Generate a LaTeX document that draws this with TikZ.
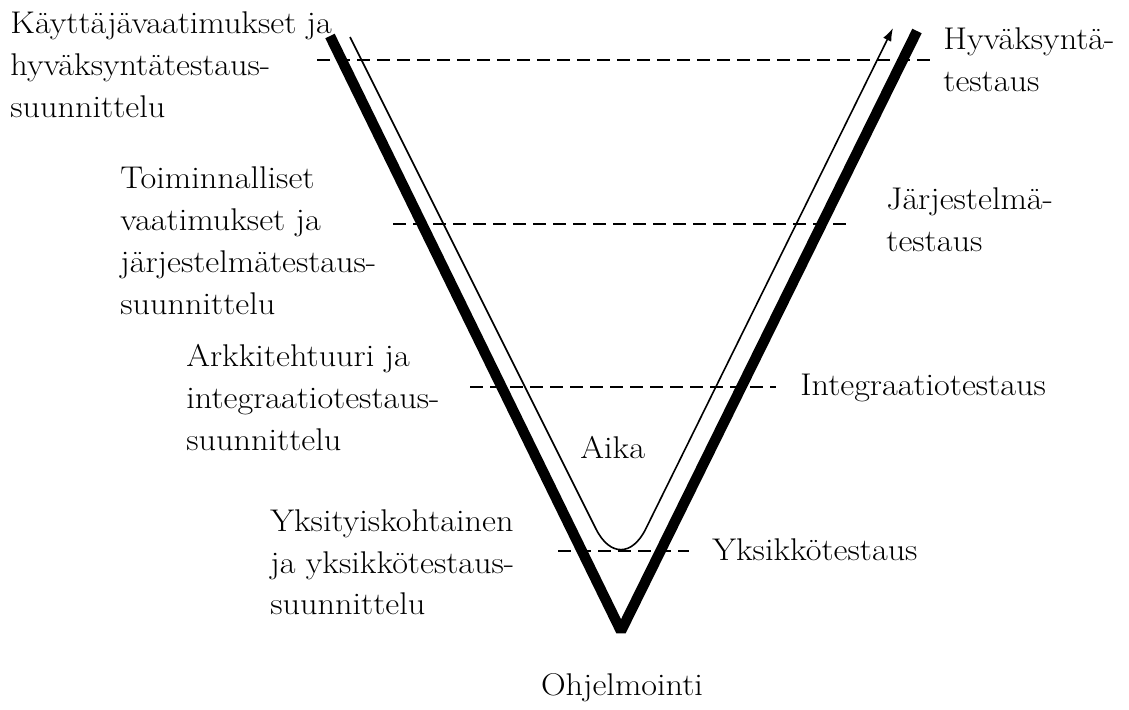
\documentclass[tikz,border=0pt]{standalone}
\usepackage{fontspec}
\setmainfont{Latin Modern Roman}[FakeStretch=1.09]
\usetikzlibrary{arrows.meta}
\begin{document}
\begin{tikzpicture}[x=0.5pt,y=-0.5pt,
  lbl/.style={anchor=base west,inner sep=0pt,font=\fontsize{15.7}{21}\selectfont},
  lblc/.style={anchor=base,inner sep=0pt,font=\fontsize{15.7}{21}\selectfont},
  thickv/.style={line width=5.2pt,line join=bevel},
  thinv/.style={line width=0.8pt,rounded corners=28pt,-{Latex[length=6.5pt,width=4.5pt]}},
  level/.style={line width=1pt,dash pattern=on 6.5pt off 3.5pt}]
\useasboundingbox (0,0) rectangle (1129,709);
% V model
\coordinate (vL) at (330,36);
\coordinate (vB) at (621,631);
\coordinate (vR) at (917,31);
\draw[thickv] (vL) -- (vB) -- (vR);
% time arrow
\coordinate (tL) at (350,37);
\coordinate (tB) at (621,579);
\coordinate (tR) at (893,28);
\draw[thinv] (tL) -- (tB) -- (tR);
% levels
\coordinate (d1a) at (317,60);  \coordinate (d1b) at (930,60);
\coordinate (d2a) at (393,224); \coordinate (d2b) at (849,224);
\coordinate (d3a) at (470,387); \coordinate (d3b) at (776,387);
\coordinate (d4a) at (558,551); \coordinate (d4b) at (689,551);
\draw[level] (d1a) -- (d1b);
\draw[level] (d2a) -- (d2b);
\draw[level] (d3a) -- (d3b);
\draw[level] (d4a) -- (d4b);
% left labels
\node[lbl] (k1) at (10,33) {Käyttäjävaatimukset ja};
\node[lbl] (k2) at (10,75) {hyväksyntätestaus-};
\node[lbl] (k3) at (10,117) {suunnittelu};
\node[lbl] (t1) at (120,188) {Toiminnalliset};
\node[lbl] (t2) at (120,230) {vaatimukset ja};
\node[lbl] (t3) at (120,272) {järjestelmätestaus-};
\node[lbl] (t4) at (120,314) {suunnittelu};
\node[lbl] (a1) at (186,366) {Arkkitehtuuri ja};
\node[lbl] (a2) at (186,408) {integraatiotestaus-};
\node[lbl] (a3) at (186,450) {suunnittelu};
\node[lbl] (y1) at (270,531) {Yksityiskohtainen};
\node[lbl] (y2) at (270,573) {ja yksikkötestaus-};
\node[lbl] (y3) at (270,614) {suunnittelu};
% right labels
\node[lbl] (h1) at (943,49) {Hyväksyntä-};
\node[lbl] (h2) at (943,91) {testaus};
\node[lbl] (j1) at (886,209) {Järjestelmä-};
\node[lbl] (j2) at (886,251) {testaus};
\node[lbl] (it) at (800,395) {Integraatiotestaus};
\node[lbl] (yt) at (712,560) {Yksikkötestaus};
% centre labels
\node[lbl] (aika) at (580,458) {Aika};
\node[lblc] (ohj) at (622,695) {Ohjelmointi};
\end{tikzpicture}
\end{document}
